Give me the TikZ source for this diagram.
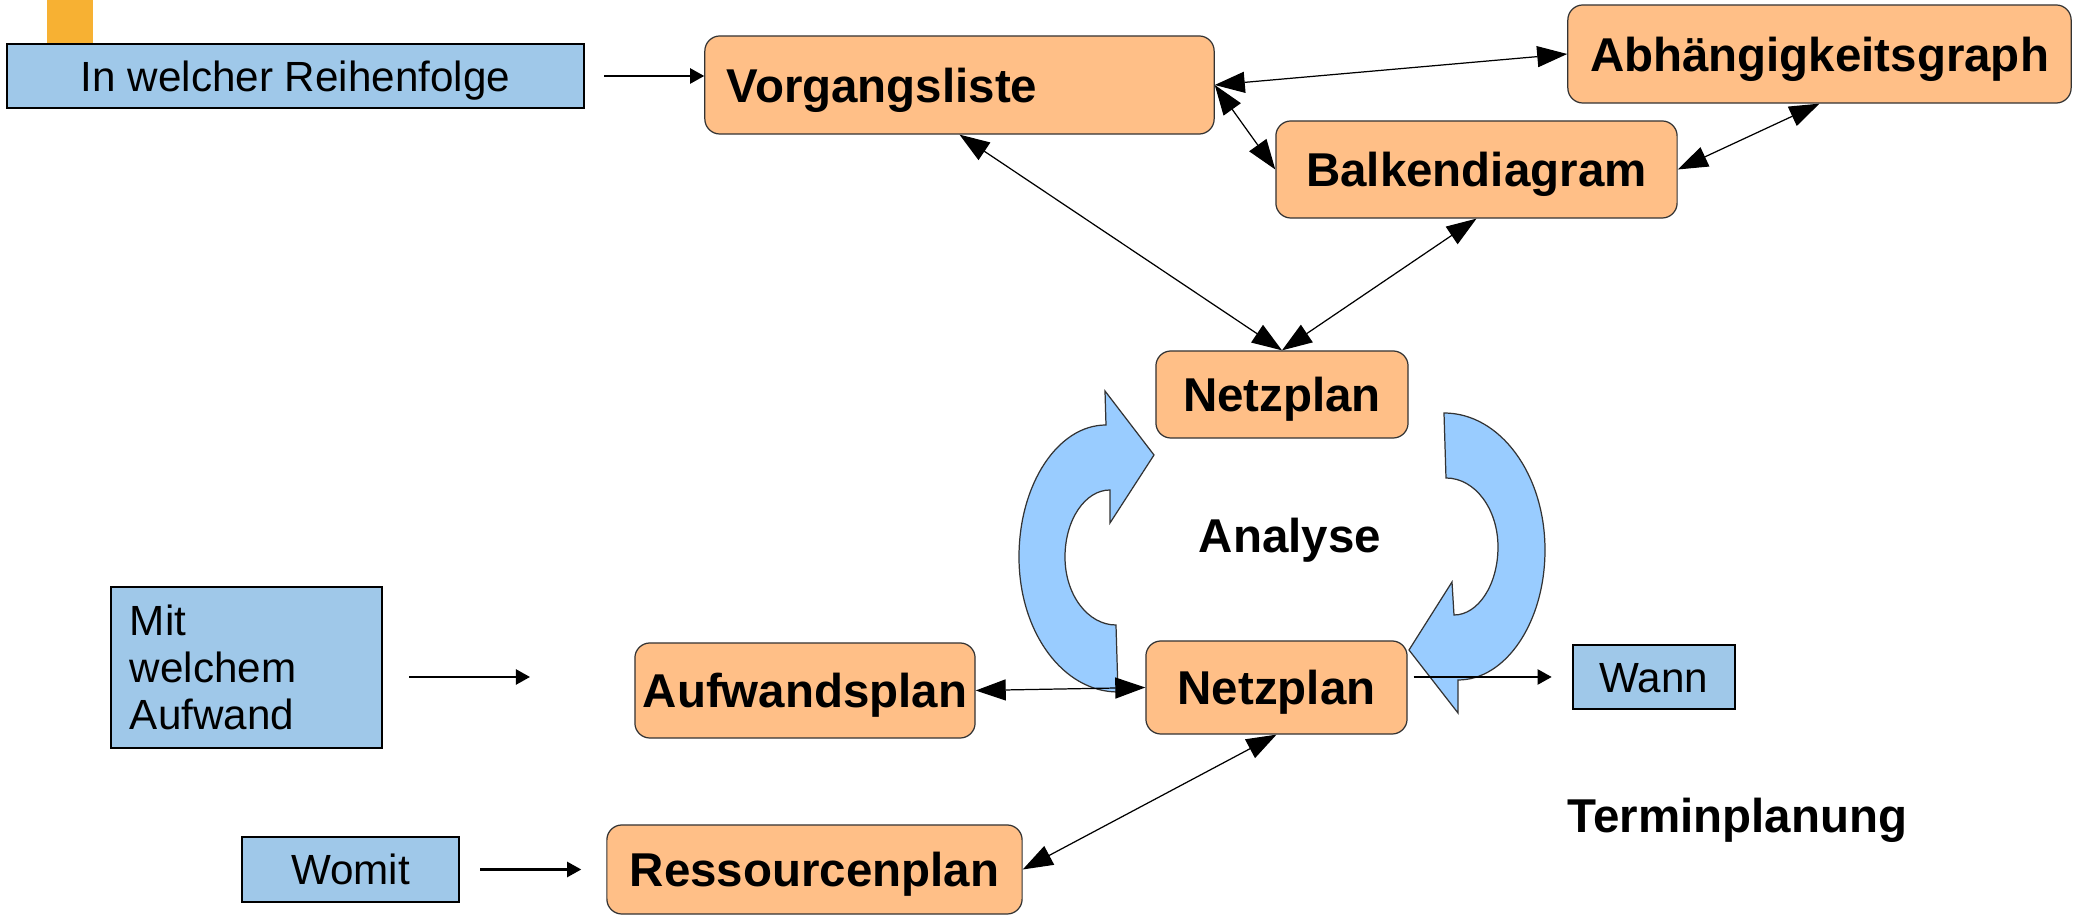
\documentclass[tikz,border=0pt]{standalone}
\usepackage{fontspec}
\setmainfont{Liberation Sans}
\usetikzlibrary{arrows.meta,calc}
\definecolor{procfill}{HTML}{FFBF87}
\definecolor{notefill}{HTML}{9FC8E9}
\definecolor{cyclefill}{HTML}{99CCFF}
\definecolor{tabfill}{HTML}{F7B133}
\definecolor{rimgray}{HTML}{333333}
\newcommand\procfont{\fontsize{13.5}{16}\selectfont\bfseries}
\newcommand\notefont{\fontsize{12}{13.4}\selectfont}

\begin{document}
\begin{tikzpicture}[x=0.01cm,y=-0.01cm,
  proc/.style={draw=rimgray, line width=0.35pt, fill=procfill, rounded corners=0.15cm,
               font=\procfont, text height=9.7pt, text depth=0pt, inner sep=0pt},
  note/.style={draw=black, line width=0.7pt, fill=notefill, font=\notefont, inner sep=0pt},
  oneline/.style={text height=8.6pt, text depth=0pt},
  cyclearrow/.style={draw=rimgray, line width=0.35pt, fill=cyclefill, line join=miter},
  link/.style={draw=black, line width=0.35pt,
               {Triangle[length=0.3cm,width=0.21cm]}-{Triangle[length=0.3cm,width=0.21cm]}},
  flow/.style={draw=black, line width=0.6pt, -{Triangle[length=0.14cm,width=0.15cm]}},
  headline/.style={font=\procfont, anchor=base, inner sep=0pt}
]
\useasboundingbox (0,0) rectangle (2074,916);

% small tab above the first question
\fill[tabfill] (47,0) rectangle (93,44);

% analysis loop arrows
\path[cyclearrow] (1118,692) .. controls (1063,692) and (1019,632) .. (1019,557)
  .. controls (1019,484) and (1058,425) .. (1106,425) -- (1105,391) -- (1154,455)
  -- (1110,523) -- (1110,490) .. controls (1085,490) and (1065,520) .. (1065,557)
  .. controls (1065,595) and (1088,625) .. (1116,625) -- cycle;
\path[cyclearrow] (1444,413) .. controls (1500,413) and (1545,474) .. (1545,550)
  .. controls (1545,622) and (1506,680) .. (1458,680) -- (1458,713) -- (1409,650)
  -- (1452,582) -- (1454,615) .. controls (1478,615) and (1498,585) .. (1498,547)
  .. controls (1498,509) and (1475,478) .. (1446,478) -- cycle;

% questions
\node[note, oneline, minimum width=5.77cm, minimum height=0.64cm] (order) at (295.5,76) {In welcher Reihenfolge};
\node[note, text width=2.33cm, align=left, inner xsep=0.19cm, minimum height=1.61cm] (mit) at (246.5,667.5) {Mit\\welchem\\Aufwand};
\node[note, oneline, minimum width=2.17cm, minimum height=0.65cm] (womit) at (350.5,869.5) {Womit};
\node[note, oneline, minimum width=1.62cm, minimum height=0.64cm] (wann) at (1654,677) {Wann};

% planning documents
\node[proc, text width=4.65cm, align=left, inner xsep=0.22cm, minimum height=0.98cm] (vl) at (959.5,85) {Vorgangsliste};
\node[proc, minimum width=5.03cm, minimum height=0.98cm] (abh) at (1819.5,54) {Abhängigkeitsgraph};
\node[proc, minimum width=4.01cm, minimum height=0.97cm] (balk) at (1476.5,169.5) {Balkendiagram};
\node[proc, minimum width=2.52cm, minimum height=0.87cm] (net1) at (1282,394.5) {Netzplan};
\node[proc, minimum width=2.61cm, minimum height=0.93cm] (net2) at (1276.5,687.5) {Netzplan};
\node[proc, minimum width=3.40cm, minimum height=0.95cm] (aufw) at (805,690.5) {Aufwandsplan};
\node[proc, minimum width=4.15cm, minimum height=0.89cm] (ress) at (814.5,869.5) {Ressourcenplan};

% headings
\node[headline] (analyse) at (1290,553) {Analyse};
\node[headline] (termin) at (1737.5,833) {Terminplanung};

% question arrows
\coordinate (mitin) at (530,677);
\draw[flow, shorten <=0.26cm] (mit.east |- mitin) -- (mitin);
\draw[flow, shorten <=0.19cm] (order.east) -- (vl.west |- order.east);
\draw[flow, shorten <=0.2cm, shorten >=0.25cm] (womit) -- (ress);
\draw[flow, shorten <=0.06cm, shorten >=0.2cm] (net2.east |- wann) -- (wann.west);

% links between documents
\draw[link] (vl.east) -- (abh.west);
\draw[link] (vl.east) -- (balk.west);
\draw[link] (abh.south) -- (balk.east);
\draw[link] (vl.south) -- (net1.north);
\draw[link] (balk.south) -- (net1.north);
\draw[link] (aufw.east) -- (net2.west);
\draw[link] (ress.east) -- (net2.south);
\end{tikzpicture}
\end{document}
